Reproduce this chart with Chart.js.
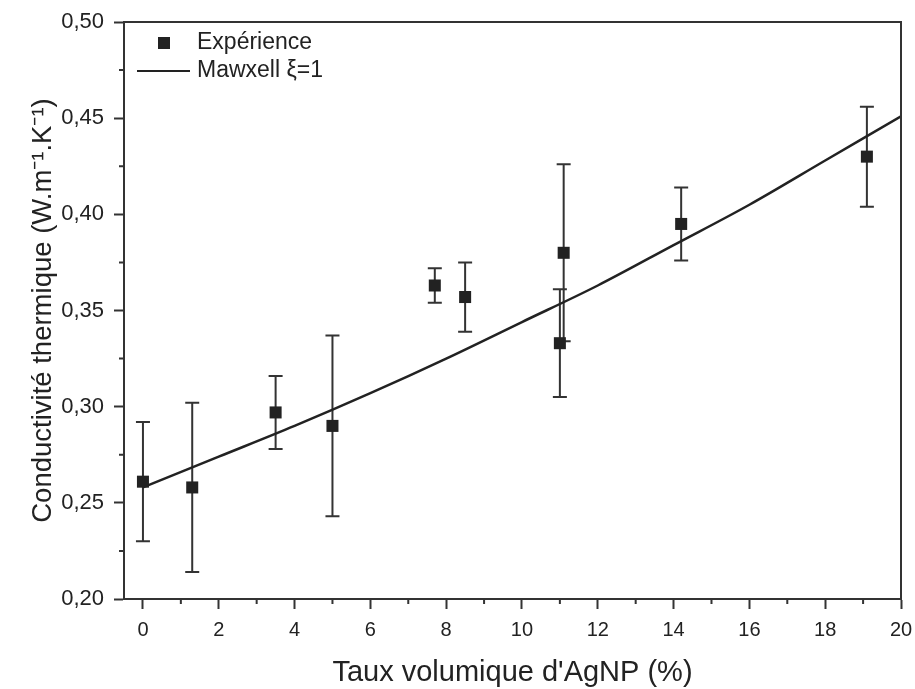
<!DOCTYPE html>
<html>
<head>
<meta charset="utf-8">
<script src="https://cdn.jsdelivr.net/npm/chart.js@4.4.0/dist/chart.umd.min.js"></script>
<style>
  html, body { margin: 0; padding: 0; background: #fff; }
  #wrap { width: 915px; height: 689px; position: relative; }
</style>
</head>
<body>
<div id="wrap"><canvas id="chart"></canvas></div>
<script>
// --- Data ---
const expX    = [0, 1.3, 3.5, 5.0, 7.7, 8.5, 11.0, 11.1, 14.2, 19.1];
const expY    = [0.261, 0.258, 0.297, 0.290, 0.363, 0.357, 0.333, 0.380, 0.395, 0.430];
const expLow  = [0.230, 0.214, 0.278, 0.243, 0.354, 0.339, 0.305, 0.334, 0.376, 0.404];
const expHigh = [0.292, 0.302, 0.316, 0.337, 0.372, 0.375, 0.361, 0.426, 0.414, 0.456];

const modelX = [0, 2, 4, 6, 8, 10, 12, 14, 16, 18, 20];
const modelY = [0.258, 0.274, 0.290, 0.307, 0.325, 0.344, 0.363, 0.384, 0.405, 0.428, 0.451];

const xTicks      = [0, 2, 4, 6, 8, 10, 12, 14, 16, 18, 20];
const xMinorTicks = [1, 3, 5, 7, 9, 11, 13, 15, 17, 19];
const yTicks      = [0.20, 0.25, 0.30, 0.35, 0.40, 0.45, 0.50];
const yMinorTicks = [0.225, 0.275, 0.325, 0.375, 0.425, 0.475];

const INK = '#222';
const FONT = "'Liberation Sans', Arial, sans-serif";

// error bars, minor ticks, frame and in-plot legend
const extras = {
  id: 'extras',
  beforeDatasetsDraw(chart) {
    const { ctx, scales: { x, y } } = chart;
    ctx.save();
    ctx.strokeStyle = '#333';
    ctx.lineWidth = 2;
    expX.forEach((v, i) => {
      const px = x.getPixelForValue(v);
      const top = y.getPixelForValue(expHigh[i]);
      const bot = y.getPixelForValue(expLow[i]);
      ctx.beginPath();
      ctx.moveTo(px, top); ctx.lineTo(px, bot);
      ctx.moveTo(px - 7, top); ctx.lineTo(px + 7, top);
      ctx.moveTo(px - 7, bot); ctx.lineTo(px + 7, bot);
      ctx.stroke();
    });
    ctx.restore();
  },
  afterDraw(chart) {
    const { ctx, chartArea: a, scales: { x, y } } = chart;
    ctx.save();
    ctx.strokeStyle = '#333';
    ctx.lineWidth = 2;
    ctx.beginPath();
    // top + right frame
    ctx.moveTo(a.left, a.top); ctx.lineTo(a.right, a.top); ctx.lineTo(a.right, a.bottom);
    // minor ticks, outward
    xMinorTicks.forEach(v => {
      const px = x.getPixelForValue(v);
      ctx.moveTo(px, a.bottom); ctx.lineTo(px, a.bottom + 5);
    });
    yMinorTicks.forEach(v => {
      const py = y.getPixelForValue(v);
      ctx.moveTo(a.left, py); ctx.lineTo(a.left - 5, py);
    });
    ctx.stroke();

    // legend
    const ds = chart.data.datasets;
    ctx.font = '23px ' + FONT;
    ctx.fillStyle = INK;
    ctx.textBaseline = 'middle';
    ctx.fillRect(a.left + 34, a.top + 15, 12, 12);
    ctx.fillText(ds[0].label, a.left + 73, a.top + 21);
    ctx.lineWidth = 2;
    ctx.strokeStyle = INK;
    ctx.beginPath();
    ctx.moveTo(a.left + 13, a.top + 49); ctx.lineTo(a.left + 66, a.top + 49);
    ctx.stroke();
    ctx.fillText(ds[1].label, a.left + 73, a.top + 49);
    ctx.restore();
  }
};

new Chart(document.getElementById('chart'), {
  type: 'scatter',
  data: {
    datasets: [
      {
        label: 'Expérience',
        data: expX.map((v, i) => ({ x: v, y: expY[i] })),
        pointStyle: 'rect',
        pointRadius: 8.5,
        pointBackgroundColor: INK,
        pointBorderWidth: 0,
        showLine: false,
      },
      {
        label: 'Mawxell ξ=1',
        data: modelX.map((v, i) => ({ x: v, y: modelY[i] })),
        showLine: true,
        borderColor: INK,
        borderWidth: 2.5,
        pointRadius: 0,
        tension: 0.4,
        cubicInterpolationMode: 'monotone',
        order: 1,
      },
    ],
  },
  options: {
    responsive: true,
    maintainAspectRatio: false,
    animation: false,
    layout: { padding: { top: 22, right: 14, left: 0, bottom: 0 } },
    plugins: { legend: { display: false }, tooltip: { enabled: false } },
    scales: {
      x: {
        type: 'linear',
        min: -0.5,
        max: 20,
        afterBuildTicks: s => { s.ticks = xTicks.map(v => ({ value: v })); },
        afterFit: s => { s.height = 90; s.paddingLeft = 0; s.paddingRight = 0; },
        grid: { drawOnChartArea: false, tickLength: 10, tickWidth: 2, tickColor: '#333' },
        border: { color: '#333', width: 2 },
        ticks: { color: INK, padding: 9, font: { family: FONT, size: 20 } },
        title: {
          display: true,
          text: "Taux volumique d'AgNP (%)",
          color: INK,
          font: { family: FONT, size: 29 },
          padding: { top: 0, bottom: -1 },
        },
      },
      y: {
        type: 'linear',
        min: 0.2,
        max: 0.5,
        afterBuildTicks: s => { s.ticks = yTicks.map(v => ({ value: v })); },
        afterFit: s => { s.width = 124; s.paddingTop = 0; s.paddingBottom = 0; },
        grid: { drawOnChartArea: false, tickLength: 10, tickWidth: 2, tickColor: '#333' },
        border: { color: '#333', width: 2 },
        ticks: {
          color: INK, padding: 10, font: { family: FONT, size: 22 },
          callback: v => v.toFixed(2).replace('.', ','),
        },
        title: {
          display: true,
          text: 'Conductivité thermique (W.m⁻¹.K⁻¹)',
          color: INK,
          font: { family: FONT, size: 27.5 },
          padding: { top: 27, bottom: 0 },
        },
      },
    },
  },
  plugins: [extras],
});
</script>
</body>
</html>
